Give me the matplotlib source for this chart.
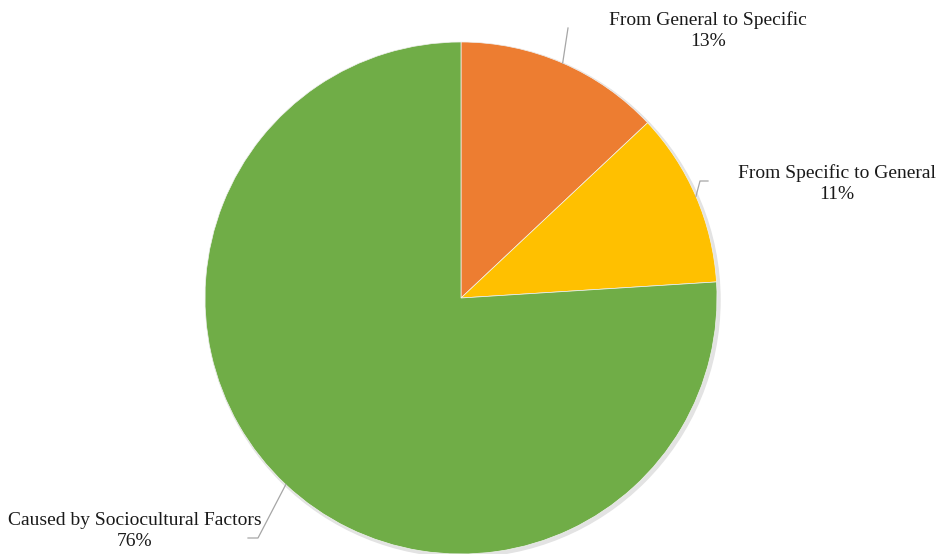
import numpy as np
import matplotlib.pyplot as plt
from matplotlib.patches import Circle

# categories and shares (percent)
labels = ['From General to Specific', 'From Specific to General', 'Caused by Sociocultural Factors']
values = [13, 11, 76]
colors = ['#ED7D31', '#FFC000', '#70AD47']

plt.rcParams['font.family'] = ['Liberation Serif', 'DejaVu Serif']

fig = plt.figure(figsize=(9.37, 5.54), dpi=100)
ax = fig.add_axes([0, 0, 1, 1])

cx, cy, r = 461, 256, 256

# faint shadow under the pie
ax.add_patch(Circle((cx + 2, cy - 2), r + 1, color='#e3e3e3', zorder=0))

wedges, _ = ax.pie(values, colors=colors, startangle=90, counterclock=False,
                   center=(cx, cy), radius=r, frame=True,
                   wedgeprops=dict(edgecolor='#f2f2f2', linewidth=0.5))
ax.set_xlim(0, 937)
ax.set_ylim(0, 554)
ax.set_aspect('equal')
ax.axis('off')

# label text positions (pixel coords, y up) and leader bends
text_pos = [(708, 523), (837, 370), (135, 23)]
elbows = [
    [(568, 554 - 28)],
    [(700, 554 - 181), (708, 554 - 181)],
    [(258, 554 - 538), (248, 554 - 538)],
]

for w, lab, v, tp, el in zip(wedges, labels, values, text_pos, elbows):
    mid = np.deg2rad((w.theta1 + w.theta2) / 2)
    x0 = cx + r * np.cos(mid)
    y0 = cy + r * np.sin(mid)
    xs = [x0] + [p[0] for p in el]
    ys = [y0] + [p[1] for p in el]
    ax.plot(xs, ys, color='#a6a6a6', lw=0.9, zorder=3)
    ax.text(tp[0], tp[1], f'{lab}\n{v}%', ha='center', va='center',
            fontsize=14, color='#1a1a1a', linespacing=1.3)

fig.savefig('out.png', dpi=100)
